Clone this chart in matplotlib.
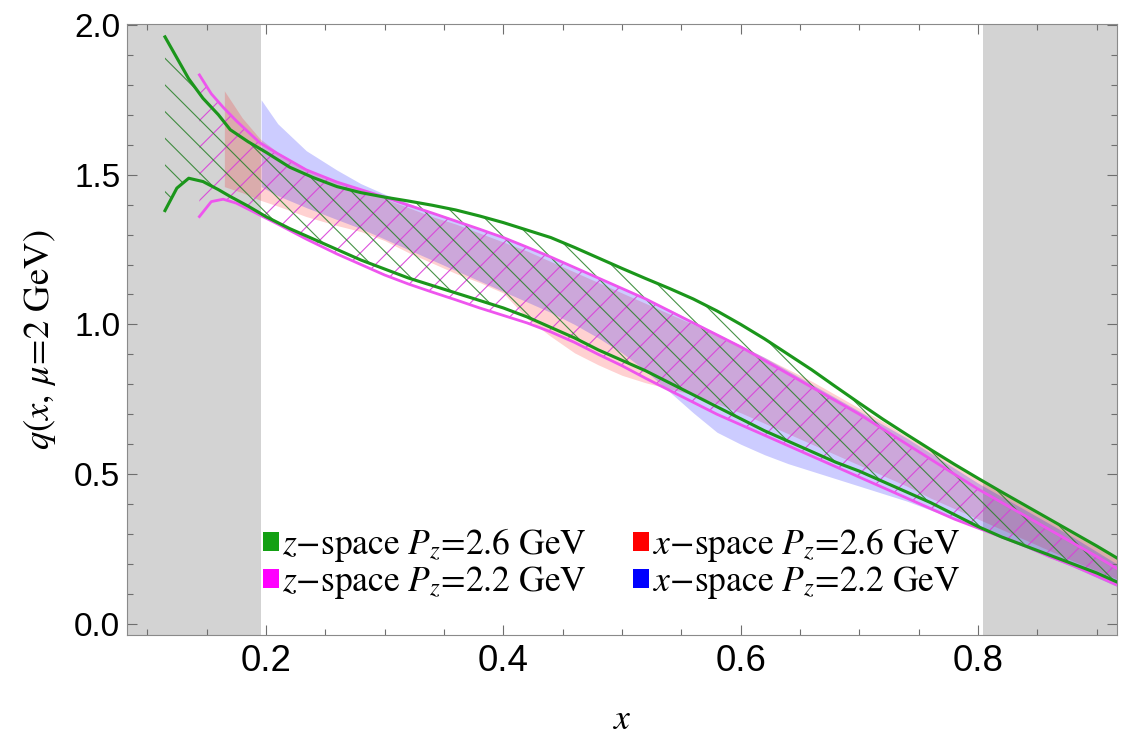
"""
Quasi-PDF comparison: z-space vs x-space matching at two boost momenta.
Bands read off the published figure.
"""
import matplotlib
matplotlib.use("Agg")
import matplotlib.pyplot as plt
from matplotlib.patches import Patch
from matplotlib.ticker import MultipleLocator

plt.rcParams["mathtext.fontset"] = "stix"
plt.rcParams["hatch.linewidth"] = 1.0

# ── band data ────────────────────────────────────────────────────────────────
# z-space, Pz = 2.6 GeV (green hatch)
x_z26  = [0.115, 0.125, 0.135, 0.147, 0.16, 0.17, 0.185, 0.20, 0.22, 0.24,
          0.26, 0.28, 0.30, 0.32, 0.34, 0.36, 0.38, 0.40, 0.42, 0.44,
          0.46, 0.48, 0.50, 0.52, 0.54, 0.56, 0.58, 0.60, 0.62, 0.64,
          0.66, 0.68, 0.70, 0.72, 0.74, 0.76, 0.78, 0.80, 0.82, 0.84,
          0.86, 0.88, 0.90, 0.917]
z26_hi = [1.96, 1.89, 1.82, 1.755, 1.70, 1.65, 1.61, 1.575, 1.525, 1.49,
          1.46, 1.44, 1.425, 1.412, 1.398, 1.382, 1.362, 1.34, 1.315, 1.29,
          1.257, 1.222, 1.187, 1.153, 1.12, 1.085, 1.045, 1.00, 0.952, 0.90,
          0.848, 0.792, 0.737, 0.683, 0.632, 0.582, 0.533, 0.486, 0.44, 0.395,
          0.35, 0.305, 0.26, 0.22]
z26_lo = [1.38, 1.455, 1.488, 1.477, 1.45, 1.427, 1.395, 1.36, 1.32, 1.285,
          1.25, 1.215, 1.185, 1.155, 1.13, 1.105, 1.08, 1.055, 1.025, 0.99,
          0.955, 0.915, 0.88, 0.845, 0.805, 0.765, 0.725, 0.685, 0.645, 0.61,
          0.575, 0.54, 0.51, 0.475, 0.44, 0.405, 0.365, 0.325, 0.29, 0.26,
          0.23, 0.20, 0.17, 0.14]

# z-space, Pz = 2.2 GeV (magenta hatch)
x_z22  = [0.144, 0.154, 0.164, 0.175, 0.195, 0.21, 0.234, 0.26, 0.28, 0.30,
          0.32, 0.34, 0.36, 0.38, 0.40, 0.42, 0.44, 0.46, 0.48, 0.50,
          0.52, 0.54, 0.56, 0.58, 0.60, 0.62, 0.64, 0.66, 0.68, 0.70,
          0.72, 0.74, 0.76, 0.78, 0.80, 0.82, 0.84, 0.86, 0.88, 0.90, 0.917]
z22_hi = [1.833, 1.77, 1.725, 1.68, 1.606, 1.57, 1.516, 1.475, 1.45, 1.425,
          1.398, 1.372, 1.345, 1.318, 1.29, 1.258, 1.225, 1.19, 1.155, 1.12,
          1.085, 1.045, 1.005, 0.965, 0.925, 0.88, 0.835, 0.79, 0.745, 0.70,
          0.65, 0.60, 0.55, 0.50, 0.45, 0.405, 0.36, 0.315, 0.27, 0.225, 0.185]
z22_lo = [1.36, 1.41, 1.418, 1.405, 1.365, 1.335, 1.285, 1.235, 1.20, 1.165,
          1.135, 1.108, 1.082, 1.055, 1.03, 1.005, 0.975, 0.94, 0.90, 0.862,
          0.82, 0.78, 0.74, 0.70, 0.665, 0.63, 0.595, 0.56, 0.525, 0.49,
          0.455, 0.42, 0.385, 0.35, 0.32, 0.29, 0.26, 0.225, 0.195, 0.16, 0.13]

# x-space, Pz = 2.6 GeV (red band)
x_x26  = [0.165, 0.18, 0.195, 0.21, 0.234, 0.26, 0.28, 0.30, 0.32, 0.34,
          0.36, 0.38, 0.40, 0.42, 0.44, 0.46, 0.48, 0.50, 0.52, 0.54,
          0.56, 0.58, 0.60, 0.62, 0.64, 0.66, 0.68, 0.70, 0.72, 0.74,
          0.76, 0.78, 0.80, 0.84, 0.88, 0.917]
x26_hi = [1.78, 1.69, 1.62, 1.575, 1.52, 1.475, 1.45, 1.42, 1.39, 1.36,
          1.335, 1.305, 1.275, 1.245, 1.21, 1.175, 1.14, 1.105, 1.07, 1.035,
          1.0, 0.965, 0.93, 0.89, 0.85, 0.81, 0.765, 0.72, 0.675, 0.625,
          0.58, 0.53, 0.485, 0.39, 0.30, 0.22]
x26_lo = [1.46, 1.44, 1.415, 1.395, 1.36, 1.33, 1.31, 1.28, 1.24, 1.205,
          1.17, 1.14, 1.105, 1.02, 0.96, 0.905, 0.865, 0.83, 0.805, 0.785,
          0.765, 0.735, 0.705, 0.67, 0.635, 0.60, 0.565, 0.53, 0.495, 0.46,
          0.42, 0.385, 0.35, 0.28, 0.21, 0.15]

# x-space, Pz = 2.2 GeV (blue band)
x_x22  = [0.196, 0.21, 0.234, 0.26, 0.28, 0.30, 0.32, 0.34, 0.36, 0.38,
          0.40, 0.42, 0.44, 0.46, 0.48, 0.50, 0.52, 0.54, 0.56, 0.58,
          0.60, 0.62, 0.64, 0.66, 0.68, 0.70, 0.72, 0.74, 0.76, 0.78,
          0.80, 0.84, 0.88, 0.917]
x22_hi = [1.75, 1.67, 1.58, 1.515, 1.47, 1.435, 1.405, 1.375, 1.35, 1.32,
          1.29, 1.26, 1.225, 1.19, 1.155, 1.12, 1.085, 1.05, 1.01, 0.97,
          0.93, 0.89, 0.845, 0.80, 0.755, 0.71, 0.665, 0.62, 0.57, 0.52,
          0.47, 0.38, 0.29, 0.20]
x22_lo = [1.46, 1.43, 1.39, 1.35, 1.32, 1.285, 1.25, 1.215, 1.18, 1.145,
          1.11, 1.075, 1.04, 1.0, 0.955, 0.905, 0.845, 0.775, 0.705, 0.64,
          0.60, 0.565, 0.535, 0.51, 0.485, 0.46, 0.435, 0.41, 0.38, 0.35,
          0.32, 0.255, 0.19, 0.125]

X_LIM   = (0.083, 0.917)
Y_LIM   = (-0.037, 2.003)
GRAY_LO = (0.083, 0.196)
GRAY_HI = (0.804, 0.917)

labels = [r"$z$−space $P_z$=2.6 GeV", r"$z$−space $P_z$=2.2 GeV",
          r"$x$−space $P_z$=2.6 GeV", r"$x$−space $P_z$=2.2 GeV"]

GREEN   = "#1b961b"
MAGENTA = "#ee55ee"

# ── plot ─────────────────────────────────────────────────────────────────────
DPI = 80
fig = plt.figure(figsize=(1124 / DPI, 737 / DPI), dpi=DPI)
ax = fig.add_axes([127 / 1124, 102 / 737, 990 / 1124, 611 / 737])

for lo, hi in (GRAY_LO, GRAY_HI):
    ax.axvspan(lo, hi, color="#d3d3d3", lw=0, zorder=0)

ax.fill_between(x_x26, x26_lo, x26_hi, color="red", alpha=0.18, lw=0, zorder=1)
ax.fill_between(x_x22, x22_lo, x22_hi, color="blue", alpha=0.2, lw=0, zorder=1)

ax.fill_between(x_z22, z22_lo, z22_hi, facecolor="none",
                edgecolor=(0.85, 0.25, 0.85, 0.9), hatch="/", lw=0, zorder=2)
ax.fill_between(x_z26, z26_lo, z26_hi, facecolor="none",
                edgecolor=(0.15, 0.5, 0.15, 0.85), hatch="\\", lw=0, zorder=2)

for y in (z22_lo, z22_hi):
    ax.plot(x_z22, y, color=MAGENTA, lw=2.5, zorder=3)
for y in (z26_lo, z26_hi):
    ax.plot(x_z26, y, color=GREEN, lw=2.8, zorder=4)

ax.set_xlim(*X_LIM)
ax.set_ylim(*Y_LIM)
ax.xaxis.set_major_locator(MultipleLocator(0.2))
ax.xaxis.set_minor_locator(MultipleLocator(0.05))
ax.yaxis.set_major_locator(MultipleLocator(0.5))
ax.yaxis.set_minor_locator(MultipleLocator(0.1))
ax.xaxis.set_major_formatter(lambda v, p: f"{v:.1f}")
ax.yaxis.set_major_formatter(lambda v, p: f"{v:.1f}")

ax.tick_params(which="both", direction="in", top=True, right=True,
               color="#6e6e6e", width=1.0)
ax.tick_params(which="major", length=9)
ax.tick_params(which="minor", length=5)
ax.tick_params(axis="x", labelsize=33, pad=8)
ax.tick_params(axis="y", labelsize=30, pad=6)
for lab in ax.get_xticklabels() + ax.get_yticklabels():
    lab.set_family("Liberation Sans")
for s in ax.spines.values():
    s.set_color("#8a8a8a")
    s.set_linewidth(1.0)

ax.set_xlabel(r"$x$", fontsize=32, va="center")
ax.set_ylabel(r"$q(x,\,\mu\!=\!2\ \mathrm{GeV})$", fontsize=33, va="center")
ax.xaxis.set_label_coords(0.5, -0.137)
ax.yaxis.set_label_coords(-0.088, 0.483)

handles = [Patch(facecolor=c, edgecolor="none")
           for c in ("#13a013", "#ff00ff", "#ff0000", "#0000ff")]
ax.legend(handles, labels, ncol=2, loc="upper left",
          bbox_to_anchor=(0.137, 0.178), frameon=False,
          prop={"family": "STIXGeneral", "size": 32},
          handlelength=0.45, handleheight=0.45, handletextpad=0.1,
          columnspacing=1.3, labelspacing=0.0, borderpad=0.0,
          borderaxespad=0.0)

fig.savefig("out.png", dpi=DPI)
